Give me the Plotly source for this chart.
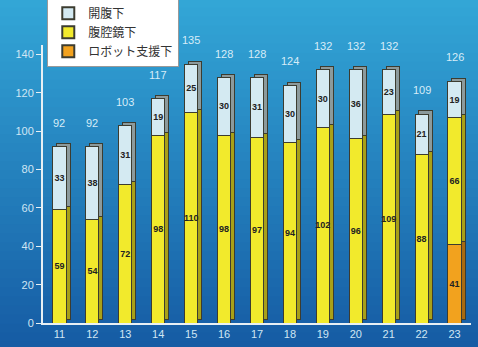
import plotly.graph_objects as go

years = ["11", "12", "13", "14", "15", "16", "17", "18", "19", "20", "21", "22", "23"]
open_surg = [33, 38, 31, 19, 25, 30, 31, 30, 30, 36, 23, 21, 19]
lap_surg = [59, 54, 72, 98, 110, 98, 97, 94, 102, 96, 109, 88, 66]
robot_surg = [0, 0, 0, 0, 0, 0, 0, 0, 0, 0, 0, 0, 41]
totals = [92, 92, 103, 117, 135, 128, 128, 124, 132, 132, 132, 109, 126]
y_ticks = [0, 20, 40, 60, 80, 100, 120, 140]

series = [
    ("ロボット支援下", robot_surg, "#f2a21e", "#a86a10"),
    ("腹腔鏡下", lap_surg, "#f2ea2c", "#a8a018"),
    ("開腹下", open_surg, "#d4eaf2", "#8c9a9c"),
]

fig = go.Figure()
line = dict(color="#3c3c30", width=1)

# pseudo-3D side/top faces (drawn behind, on shifted base axes)
for name, vals, front, side in series:
    fig.add_trace(go.Bar(x=years, y=vals, name=name, showlegend=False,
                         marker=dict(color=side, line=line),
                         hoverinfo="skip", xaxis="x", yaxis="y"))

# front faces
for name, vals, front, side in series:
    fig.add_trace(go.Bar(x=years, y=vals, name=name,
                         marker=dict(color=front, line=line),
                         text=["<b>%d</b>" % v if v else "" for v in vals],
                         textposition="inside", insidetextanchor="middle", textangle=0,
                         textfont=dict(color="#222", size=9, family="Arial"),
                         xaxis="x2", yaxis="y2"))

for i, t in enumerate(totals):
    fig.add_annotation(x=i, y=t, xref="x2", yref="y2", text=str(t), showarrow=False,
                       yshift=24, font=dict(color="#d6ecf8", size=11, family="Arial"))

# vertical gradient background
n = 40
c0 = (0x34, 0xa8, 0xd8)
c1 = (0x16, 0x5c, 0xa4)
shapes = []
for i in range(n):
    f = i / (n - 1)
    col = tuple(int(c0[k] + (c1[k] - c0[k]) * f) for k in range(3))
    y_top = 1.2 - i * (1.3 / n)
    shapes.append(dict(type="rect", xref="paper", yref="paper",
                       x0=-0.2, x1=1.2, y0=y_top - 1.3 / n - 0.002, y1=y_top,
                       fillcolor="rgb(%d,%d,%d)" % col, line=dict(width=0),
                       layer="below"))

fig.update_layout(
    width=478, height=347,
    margin=dict(l=43, r=7, t=45, b=24, autoexpand=False),
    barmode="stack", bargap=0.6,
    paper_bgcolor="#1f80c0", plot_bgcolor="rgba(0,0,0,0)",
    shapes=shapes,
    showlegend=True,
    legend=dict(x=0.01, y=1.17, xanchor="left", yanchor="top",
                bgcolor="white", bordercolor="#999", borderwidth=1,
                font=dict(color="#333", size=12, family="Noto Sans CJK JP"),
                traceorder="reversed", itemsizing="constant",
                tracegroupgap=0),
    font=dict(family="Arial", color="#d0e6f4"),
    uniformtext=dict(minsize=8, mode="show"),
    xaxis=dict(type="category", range=[-0.5 - 0.12, 12.5 - 0.12], visible=False,
               showgrid=False),
    yaxis=dict(range=[-1.6, 145 - 1.6], visible=False, showgrid=False, zeroline=False),
    xaxis2=dict(type="category", overlaying="x", anchor="y2", side="bottom",
                range=[-0.5, 12.5], showgrid=False, showline=True,
                linecolor="#e8f0f4", linewidth=2,
                tickfont=dict(size=11, color="#d0e6f4"), ticks=""),
    yaxis2=dict(overlaying="y", anchor="x2", side="left", range=[0, 145],
                tickvals=y_ticks, showgrid=False, zeroline=False,
                showline=True, linecolor="#e8f0f4", linewidth=2,
                ticks="outside", ticklen=5, tickcolor="#e8f0f4",
                tickfont=dict(size=11, color="#d0e6f4")),
)

fig.write_html("out.html", config={"displayModeBar": False},
               post_script="document.body.style.margin='0';document.body.style.overflow='hidden';")
